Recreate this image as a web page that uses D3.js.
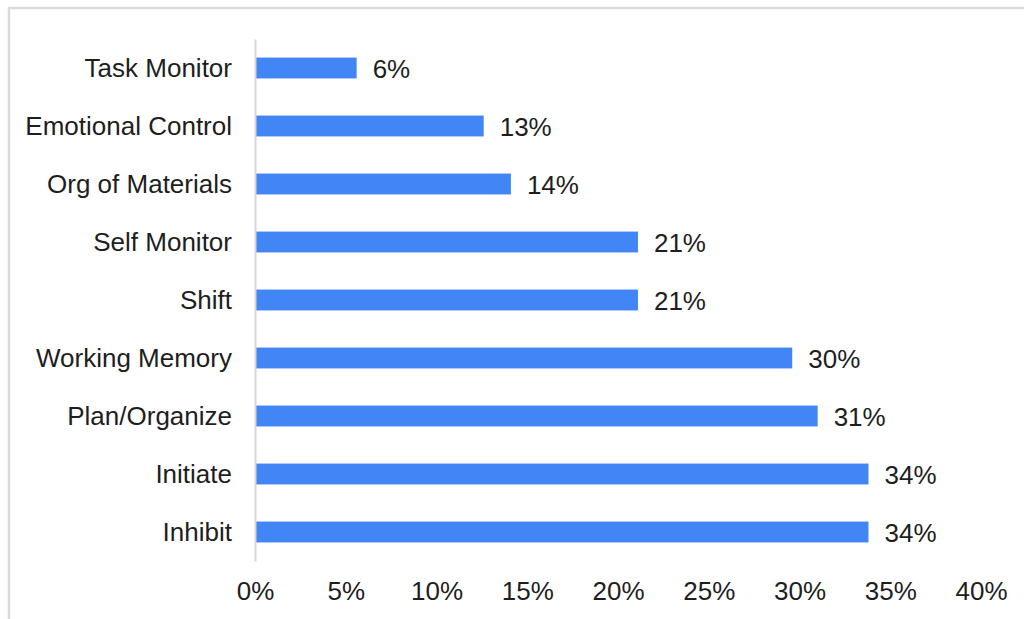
<!DOCTYPE html>
<html>
<head>
<meta charset="utf-8">
<script src="https://cdn.jsdelivr.net/npm/d3@7/dist/d3.min.js"></script>
<style>
  html, body { margin: 0; padding: 0; background: #fff; }
  svg { display: block; }
  text { font-family: "Liberation Sans", Arial, sans-serif; fill: #1e1e1e; }
</style>
</head>
<body>
<svg id="chart" width="1024" height="619"></svg>
<script>
const categories = ["Task Monitor", "Emotional Control", "Org of Materials", "Self Monitor", "Shift", "Working Memory", "Plan/Organize", "Initiate", "Inhibit"];
const values = [5.6, 12.6, 14.1, 21.1, 21.1, 29.6, 31.0, 33.8, 33.8];
const valueLabels = ["6%", "13%", "14%", "21%", "21%", "30%", "31%", "34%", "34%"];
const tickValues = [0, 5, 10, 15, 20, 25, 30, 35, 40];

const svg = d3.select("#chart");
const W = 1024, H = 619;
const FS = 26;

// outer frame (only top and left edges visible in reference)
svg.append("rect")
  .attr("x", 9).attr("y", 8)
  .attr("width", W + 10).attr("height", H + 10)
  .attr("fill", "none").attr("stroke", "#dadada").attr("stroke-width", 2.5);

const x = d3.scaleLinear().domain([0, 40]).range([255, 981]);
const y = d3.scaleBand().domain(categories).range([39, 561]).paddingInner(0.64).paddingOuter(0.32);

// bars
svg.append("g").selectAll("rect")
  .data(categories)
  .join("rect")
  .attr("x", x(0))
  .attr("y", d => y(d))
  .attr("width", (d, i) => x(values[i]) - x(0))
  .attr("height", y.bandwidth())
  .attr("fill", "#4285f4");

// value labels
svg.append("g").selectAll("text")
  .data(categories)
  .join("text")
  .attr("x", (d, i) => x(values[i]) + 16)
  .attr("y", d => y(d) + y.bandwidth() / 2)
  .attr("dy", "0.4em")
  .attr("font-size", FS)
  .text((d, i) => valueLabels[i]);

// y axis
const yAxis = d3.axisLeft(y).tickSize(0).tickPadding(23);
const gy = svg.append("g").attr("transform", `translate(${x(0)},0)`).call(yAxis);
gy.select(".domain").attr("stroke", "#d6d6d6").attr("stroke-width", 2);
gy.selectAll("text").attr("font-size", FS).attr("fill", "#1e1e1e").attr("dy", "0.34em")
  .style("font-family", '"Liberation Sans", Arial, sans-serif');

// x axis (labels only)
const xAxis = d3.axisBottom(x).tickValues(tickValues).tickSize(0).tickPadding(0).tickFormat(d => d + "%");
const gx = svg.append("g").attr("transform", `translate(0,581)`).call(xAxis);
gx.select(".domain").remove();
gx.selectAll("text").attr("font-size", FS).attr("fill", "#1e1e1e").attr("dy", "0.72em")
  .style("font-family", '"Liberation Sans", Arial, sans-serif');
</script>
</body>
</html>
